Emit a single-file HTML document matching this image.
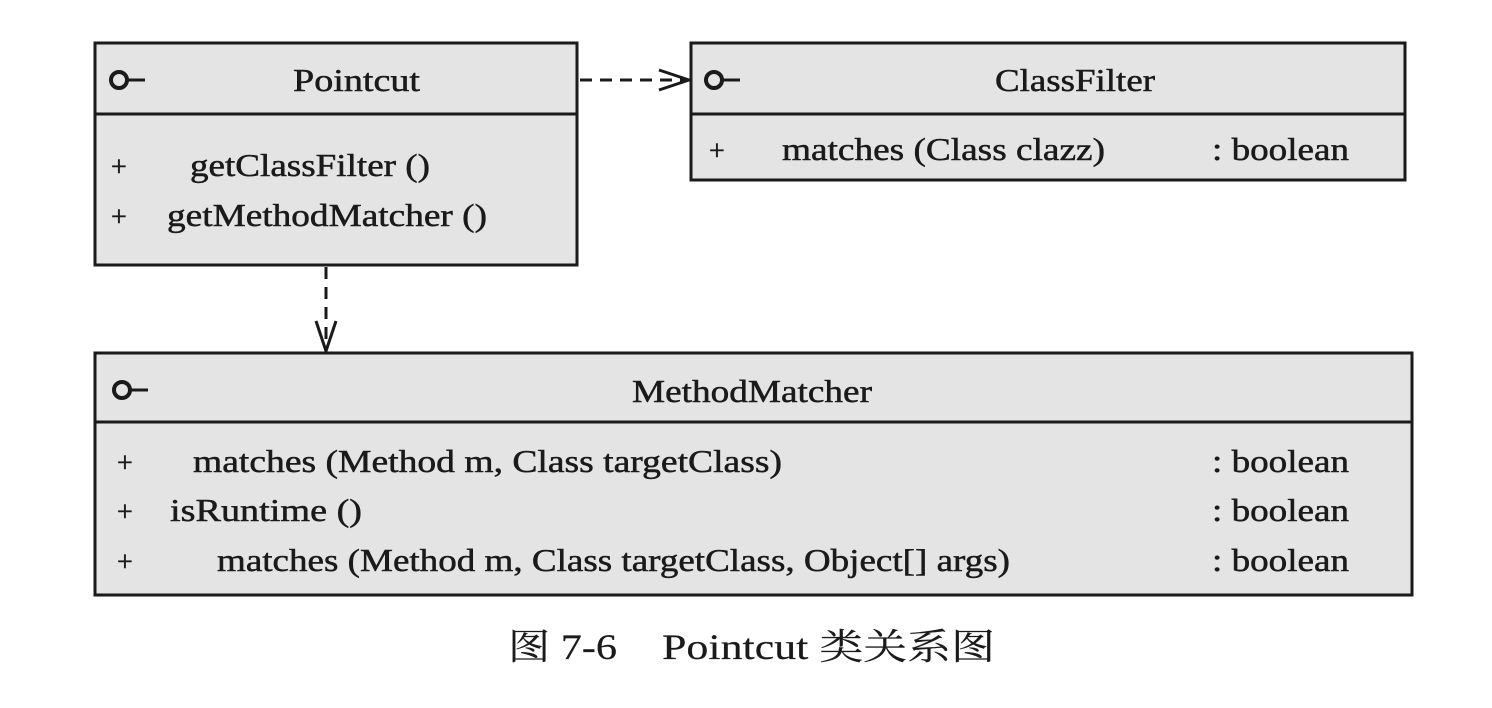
<!DOCTYPE html>
<html><head><meta charset="utf-8"><style>
html,body{margin:0;padding:0;background:#fff;}
svg{display:block;}
text{font-family:"Liberation Serif","Noto Serif CJK SC",serif;fill:#1a1a1a;stroke:#1a1a1a;stroke-width:0.5;}
</style></head><body>
<svg width="1492" height="708" viewBox="0 0 1492 708">
<defs>
<marker id="arr" markerWidth="34" markerHeight="30" refX="32" refY="15" orient="auto" markerUnits="userSpaceOnUse">
<path d="M2,5 L32,15 L2,25" fill="none" stroke="#1a1a1a" stroke-width="3"/>
</marker>
</defs>
<g>
<rect x="95" y="43" width="482" height="222" fill="#e4e4e4" stroke="#1a1a1a" stroke-width="3"/>
<line x1="95" y1="114" x2="577" y2="114" stroke="#1a1a1a" stroke-width="3"/>
<g><circle cx="119" cy="80" r="8" fill="none" stroke="#1a1a1a" stroke-width="4"/><line x1="127" y1="80" x2="145" y2="80" stroke="#1a1a1a" stroke-width="3"/></g>
<text x="293" y="91" font-size="32" textLength="127" lengthAdjust="spacingAndGlyphs">Pointcut</text>
<text x="111" y="176" font-size="28">+</text>
<text x="190" y="176" font-size="32" textLength="240" lengthAdjust="spacingAndGlyphs">getClassFilter ()</text>
<text x="111" y="226" font-size="28">+</text>
<text x="167" y="226" font-size="32" textLength="320" lengthAdjust="spacingAndGlyphs">getMethodMatcher ()</text>
</g>
<g>
<rect x="691" y="43" width="714" height="137" fill="#e4e4e4" stroke="#1a1a1a" stroke-width="3"/>
<line x1="691" y1="114" x2="1405" y2="114" stroke="#1a1a1a" stroke-width="3"/>
<g><circle cx="714" cy="80" r="8" fill="none" stroke="#1a1a1a" stroke-width="4"/><line x1="722" y1="80" x2="740" y2="80" stroke="#1a1a1a" stroke-width="3"/></g>
<text x="995" y="91" font-size="32" textLength="160" lengthAdjust="spacingAndGlyphs">ClassFilter</text>
<text x="709" y="160" font-size="28">+</text>
<text x="782" y="160" font-size="32" textLength="323" lengthAdjust="spacingAndGlyphs">matches (Class clazz)</text>
<text x="1212" y="160" font-size="32" textLength="137" lengthAdjust="spacingAndGlyphs">: boolean</text>
</g>
<g>
<rect x="95" y="353" width="1317" height="242" fill="#e4e4e4" stroke="#1a1a1a" stroke-width="3"/>
<line x1="95" y1="422" x2="1412" y2="422" stroke="#1a1a1a" stroke-width="3"/>
<g><circle cx="122" cy="390" r="8" fill="none" stroke="#1a1a1a" stroke-width="4"/><line x1="130" y1="390" x2="148" y2="390" stroke="#1a1a1a" stroke-width="3"/></g>
<text x="632" y="402" font-size="32" textLength="240" lengthAdjust="spacingAndGlyphs">MethodMatcher</text>
<text x="117" y="472" font-size="28">+</text>
<text x="193" y="472" font-size="32" textLength="589" lengthAdjust="spacingAndGlyphs">matches (Method m, Class targetClass)</text>
<text x="1212" y="472" font-size="32" textLength="137" lengthAdjust="spacingAndGlyphs">: boolean</text>
<text x="117" y="521" font-size="28">+</text>
<text x="170" y="521" font-size="32" textLength="192" lengthAdjust="spacingAndGlyphs">isRuntime ()</text>
<text x="1212" y="521" font-size="32" textLength="137" lengthAdjust="spacingAndGlyphs">: boolean</text>
<text x="117" y="571" font-size="28">+</text>
<text x="217" y="571" font-size="32" textLength="793" lengthAdjust="spacingAndGlyphs">matches (Method m, Class targetClass, Object[] args)</text>
<text x="1212" y="571" font-size="32" textLength="137" lengthAdjust="spacingAndGlyphs">: boolean</text>
</g>
<line x1="580" y1="80" x2="689" y2="80" stroke="#1a1a1a" stroke-width="3" stroke-dasharray="12,8" marker-end="url(#arr)"/>
<line x1="326" y1="267" x2="326" y2="351" stroke="#1a1a1a" stroke-width="3" stroke-dasharray="12,8" marker-end="url(#arr)"/>
<g>
<text x="508" y="659" font-size="36" textLength="109" lengthAdjust="spacingAndGlyphs" style="stroke-width:0.2">图 7-6</text>
<text x="662" y="659" font-size="36" textLength="333" lengthAdjust="spacingAndGlyphs" style="stroke-width:0.2">Pointcut 类关系图</text>
</g>
</svg>
</body></html>
